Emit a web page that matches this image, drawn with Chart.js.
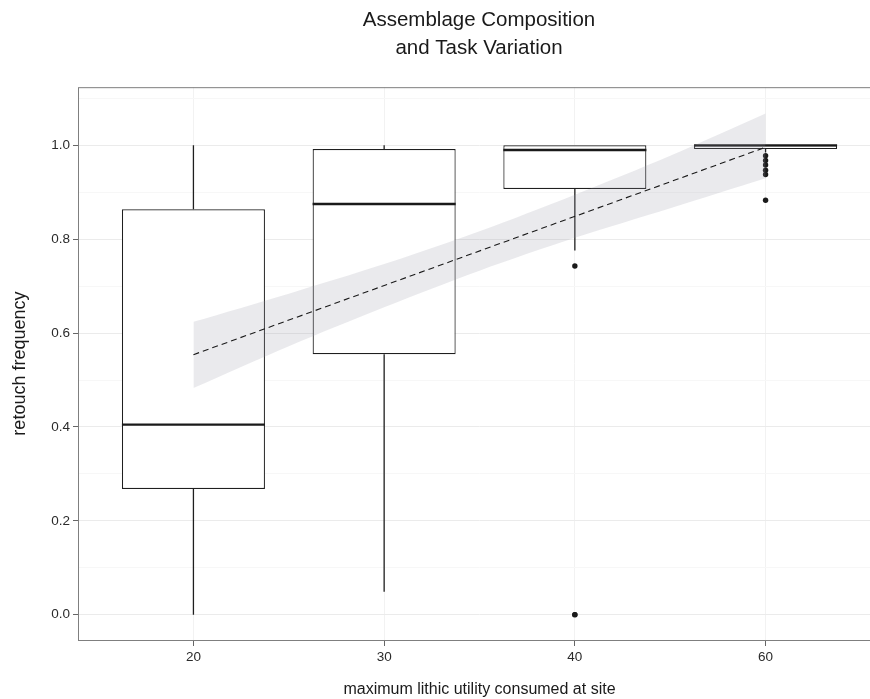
<!DOCTYPE html>
<html>
<head>
<meta charset="utf-8">
<title>Assemblage Composition and Task Variation</title>
<script src="https://cdn.jsdelivr.net/npm/chart.js@4.4.1/dist/chart.umd.min.js"></script>
<style>
  html, body { margin: 0; padding: 0; background: #fff; overflow: hidden; }
  #wrap { width: 958px; height: 699px; }
</style>
</head>
<body>
<div id="wrap"><canvas id="chart" width="958" height="699"></canvas></div>
<script>
// x groups (discrete axis, placed at 1..4)
const groups = ["20", "30", "40", "60"];

// box statistics per group
const whiskerLow = [0.0, 0.049, 0.776, 0.985];
const q1 = [0.268, 0.555, 0.907, 0.992];
const median = [0.405, 0.875, 0.990, 1.0];
const q3 = [0.864, 0.992, 1.0, 1.0];
const whiskerHigh = [1.0, 1.0, 1.0, 1.0];

// outliers: group position + value
const outlierGroup = [3, 3, 3, 4, 4, 4, 4, 4, 4];
const outlierValue = [0.743, 0.0, 0.0, 0.978, 0.968, 0.958, 0.947, 0.938, 0.883];

// dashed linear fit and its confidence band
const fitX = [1, 4];
const fitY = [0.554, 0.996];
const bandX = [1, 1.5, 2, 2.5, 3, 3.5, 4];
const bandHigh = [0.624, 0.684, 0.747, 0.817, 0.895, 0.978, 1.068];
const bandLow = [0.483, 0.572, 0.655, 0.733, 0.803, 0.866, 0.930];

const FONT = '"Liberation Sans", Arial, Helvetica, sans-serif';
const INK = "#1f1f1f";
const HALF = 0.375; // half box width, in group units

Chart.defaults.font.family = FONT;

const pos = (i) => i + 1;

const boxData = groups.map((g, i) => ({ x: pos(i), y: [q1[i], q3[i]] }));

const whiskerData = [];
groups.forEach((g, i) => {
  whiskerData.push({ x: pos(i), y: q3[i] }, { x: pos(i), y: whiskerHigh[i] }, { x: pos(i), y: null });
  whiskerData.push({ x: pos(i), y: q1[i] }, { x: pos(i), y: whiskerLow[i] }, { x: pos(i), y: null });
});

const medianData = [];
groups.forEach((g, i) => {
  medianData.push({ x: pos(i) - HALF, y: median[i] }, { x: pos(i) + HALF, y: median[i] }, { x: pos(i), y: null });
});

const outlierData = outlierGroup.map((g, i) => ({ x: g, y: outlierValue[i] }));
const fitData = fitX.map((x, i) => ({ x, y: fitY[i] }));
const bandLowData = bandX.map((x, i) => ({ x, y: bandLow[i] }));
const bandHighData = bandX.map((x, i) => ({ x, y: bandHigh[i] }));

// ggplot-style panel border on all four sides
const panelBorder = {
  id: "panelBorder",
  afterDatasetsDraw(chart) {
    const { ctx, chartArea: a } = chart;
    ctx.save();
    ctx.strokeStyle = "#7f7f7f";
    ctx.lineWidth = 1;
    ctx.strokeRect(a.left - 0.5, a.top + 0.5, a.right - a.left + 1, a.bottom - a.top);
    ctx.restore();
  },
};

const isMajor = (v) => Math.round(v * 10) % 2 === 0;

new Chart(document.getElementById("chart"), {
  type: "bar",
  data: {
    datasets: [
      {
        type: "bar",
        data: boxData,
        backgroundColor: "#ffffff",
        borderColor: INK,
        borderWidth: 1.2,
        borderSkipped: false,
        inflateAmount: 0,
        barPercentage: 0.75,
        categoryPercentage: 1,
        order: 9,
      },
      {
        type: "line",
        data: whiskerData,
        borderColor: INK,
        borderWidth: 1.3,
        pointRadius: 0,
        spanGaps: false,
        order: 8,
      },
      {
        type: "line",
        data: medianData,
        borderColor: "#1a1a1a",
        borderWidth: 2.4,
        borderCapStyle: "butt",
        pointRadius: 0,
        spanGaps: false,
        order: 7,
      },
      {
        type: "scatter",
        data: outlierData,
        backgroundColor: "#1a1a1a",
        borderWidth: 0,
        pointRadius: 2.7,
        order: 6,
      },
      {
        type: "line",
        data: bandLowData,
        borderWidth: 0,
        pointRadius: 0,
        tension: 0.3,
        fill: false,
        order: 5,
      },
      {
        type: "line",
        data: bandHighData,
        borderWidth: 0,
        pointRadius: 0,
        tension: 0.3,
        fill: "-1",
        backgroundColor: "rgba(150,150,165,0.2)",
        order: 4,
      },
      {
        type: "line",
        data: fitData,
        borderColor: "#1a1a1a",
        borderWidth: 1.1,
        borderDash: [6, 4],
        pointRadius: 0,
        order: 3,
      },
    ],
  },
  options: {
    responsive: false,
    animation: false,
    devicePixelRatio: 1,
    layout: { padding: 0 },
    plugins: {
      legend: { display: false },
      tooltip: { enabled: false },
      title: {
        display: true,
        text: ["Assemblage Composition", "and Task Variation"],
        color: "#1a1a1a",
        font: { size: 20.5, weight: "normal", lineHeight: 1.37 },
        padding: { top: 6, bottom: 25 },
      },
    },
    scales: {
      x: {
        type: "linear",
        min: 0.4,
        max: 4.6,
        offset: false,
        afterBuildTicks: (s) => { s.ticks = groups.map((g, i) => ({ value: pos(i) })); },
        afterFit: (s) => { s.height = 59; },
        grid: { offset: false, color: "#f2f2f2", tickColor: "#666666", tickLength: 6, lineWidth: 1 },
        border: { display: false },
        ticks: {
          color: "#2b2b2b",
          font: { size: 13.5 },
          padding: 3,
          maxRotation: 0,
          autoSkip: false,
          callback: (v) => groups[Math.round(v) - 1],
        },
        title: {
          display: true,
          text: "maximum lithic utility consumed at site",
          color: "#1a1a1a",
          font: { size: 16 },
          padding: { top: 0, bottom: 0 },
        },
      },
      y: {
        type: "linear",
        min: -0.054,
        max: 1.124,
        afterFit: (s) => { s.width = 79; },
        grid: {
          color: (c) => (c.tick && isMajor(c.tick.value) ? "#ebebeb" : "#f7f7f7"),
          tickColor: (c) => (c.tick && isMajor(c.tick.value) ? "#666666" : "rgba(0,0,0,0)"),
          tickLength: 6,
          lineWidth: 1,
        },
        border: { display: false },
        ticks: {
          stepSize: 0.1,
          includeBounds: false,
          color: "#2b2b2b",
          font: { size: 13.5 },
          padding: 3,
          callback: (v) => (isMajor(v) ? v.toFixed(1) : ""),
        },
        title: {
          display: true,
          text: "retouch frequency",
          color: "#1a1a1a",
          font: { size: 18 },
          padding: { top: 9, bottom: 0 },
        },
      },
      // empty right-hand margin (the plot continues past the visible crop)
      margin: {
        type: "linear",
        position: "right",
        display: true,
        afterFit: (s) => { s.width = 78; },
        grid: { display: false },
        border: { display: false },
        ticks: { display: false },
      },
    },
  },
  plugins: [panelBorder],
});
</script>
</body>
</html>
